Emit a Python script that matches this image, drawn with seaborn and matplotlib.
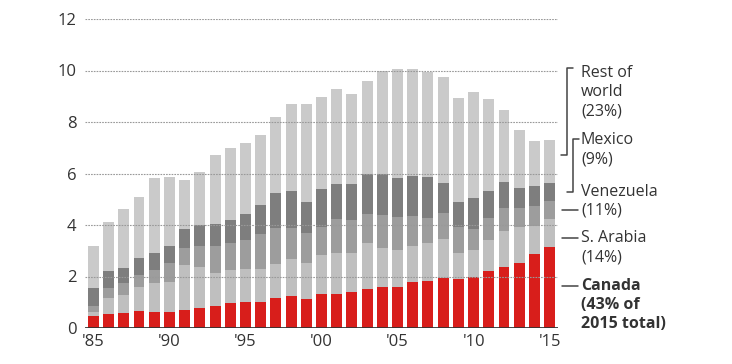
import numpy as np
import pandas as pd
import matplotlib
matplotlib.use('Agg')
import matplotlib.pyplot as plt
import seaborn as sns
from matplotlib.lines import Line2D

# US crude oil imports by source, million barrels a day
years = list(range(1985, 2016))
canada = [0.45, 0.54, 0.60, 0.66, 0.61, 0.61, 0.70, 0.76, 0.87, 0.96, 1.02,
          1.02, 1.18, 1.26, 1.13, 1.32, 1.32, 1.39, 1.50, 1.58, 1.60, 1.77,
          1.84, 1.95, 1.89, 1.97, 2.21, 2.38, 2.54, 2.87, 3.13]
saudi_arabia = [0.18, 0.61, 0.68, 0.94, 1.12, 1.19, 1.75, 1.62, 1.28, 1.29, 1.26,
                1.26, 1.31, 1.41, 1.41, 1.51, 1.58, 1.51, 1.79, 1.51, 1.43, 1.41,
                1.45, 1.49, 1.01, 1.06, 1.21, 1.40, 1.40, 1.09, 1.09]
venezuela = [0.24, 0.39, 0.45, 0.46, 0.52, 0.71, 0.64, 0.80, 1.03, 1.06, 1.14,
             1.36, 1.38, 1.20, 1.16, 1.08, 1.32, 1.29, 1.14, 1.30, 1.27, 1.17,
             0.97, 1.04, 1.01, 0.80, 0.84, 0.87, 0.71, 0.78, 0.72]
mexico = [0.70, 0.67, 0.59, 0.64, 0.65, 0.67, 0.74, 0.82, 0.85, 0.88, 1.01,
          1.14, 1.36, 1.46, 1.21, 1.48, 1.36, 1.39, 1.55, 1.59, 1.51, 1.55,
          1.62, 1.16, 1.00, 1.23, 1.07, 1.01, 0.77, 0.77, 0.70]
rest_of_world = [1.61, 1.92, 2.30, 2.38, 2.92, 2.70, 1.92, 2.05, 2.69, 2.81, 2.74,
                 2.72, 2.97, 3.36, 3.78, 3.59, 3.69, 3.52, 3.62, 4.02, 4.25, 4.16,
                 4.08, 4.10, 4.04, 4.10, 3.55, 2.81, 2.27, 1.75, 1.68]

tick_years = [1985, 1990, 1995, 2000, 2005, 2010, 2015]

df = pd.DataFrame({'year': [str(y) for y in years], 'Canada': canada,
                   'S. Arabia': saudi_arabia, 'Venezuela': venezuela,
                   'Mexico': mexico, 'Rest of world': rest_of_world})
layers = ['Canada', 'S. Arabia', 'Venezuela', 'Mexico', 'Rest of world']
colors = {'Canada': '#d81e1b', 'S. Arabia': '#bfbfbf', 'Venezuela': '#9d9d9d',
          'Mexico': '#7e7e7e', 'Rest of world': '#cacaca'}
cum = df[layers].cumsum(axis=1)

sns.set_style('white')
plt.rcParams['font.family'] = ['Open Sans', 'DejaVu Sans']

W, H = 732, 364
fig = plt.figure(figsize=(W / 100, H / 100), dpi=100)
ax = fig.add_axes([85 / W, 36 / H, 473 / W, 309 / H])

# stacked bars: draw running totals from the top layer down
for name in reversed(layers):
    sns.barplot(x=df['year'], y=cum[name], color=colors[name], width=0.72,
                saturation=1, linewidth=0, ax=ax, zorder=2)

for v in range(2, 13, 2):
    ax.axhline(v, color='#999999', lw=0.8, ls=(0, (1.5, 1)), zorder=3)
ax.axhline(0, color='#333333', lw=2, zorder=4)

ax.set_xlim(-0.55, 30.55)
ax.set_ylim(0, 12)
ax.set_yticks(range(0, 13, 2))
ax.set_yticklabels([str(v) for v in range(0, 13, 2)])
ax.set_xticks([years.index(y) for y in tick_years])
ax.set_xticklabels(["'" + str(y)[2:] for y in tick_years])
ax.tick_params(axis='both', length=0, labelsize=12, colors='#333333')
ax.tick_params(axis='y', pad=6)
ax.tick_params(axis='x', pad=4)
ax.set_xlabel('')
ax.set_ylabel('')
sns.despine(ax=ax, left=True, bottom=True)


def fx(x):
    return x / W


def fy(y):
    return 1 - y / H


def seg(xs, ys):
    fig.add_artist(Line2D([fx(x) for x in xs], [fy(y) for y in ys],
                          color='#444444', lw=1.1))


# right-hand labels
txt = dict(fontsize=11.5, color='#333333', va='center', ha='left',
           linespacing=1.25)
fig.text(fx(581), fy(92), 'Rest of\nworld\n(23%)', **txt)
fig.text(fx(581), fy(150), 'Mexico\n(9%)', **txt)
fig.text(fx(581), fy(201), 'Venezuela\n(11%)', **txt)
fig.text(fx(581), fy(248), 'S. Arabia\n(14%)', **txt)
fig.text(fx(581), fy(305), 'Canada\n(43% of\n2015 total)', fontweight='bold', **txt)

seg([573, 567, 567, 561], [68, 68, 155, 155])
seg([579, 573, 573, 567], [139, 139, 192, 192])
seg([562, 578], [210, 210])
seg([562, 578], [238, 238])
seg([562, 578], [286, 286])

fig.savefig('out.png', dpi=100, facecolor='white')
